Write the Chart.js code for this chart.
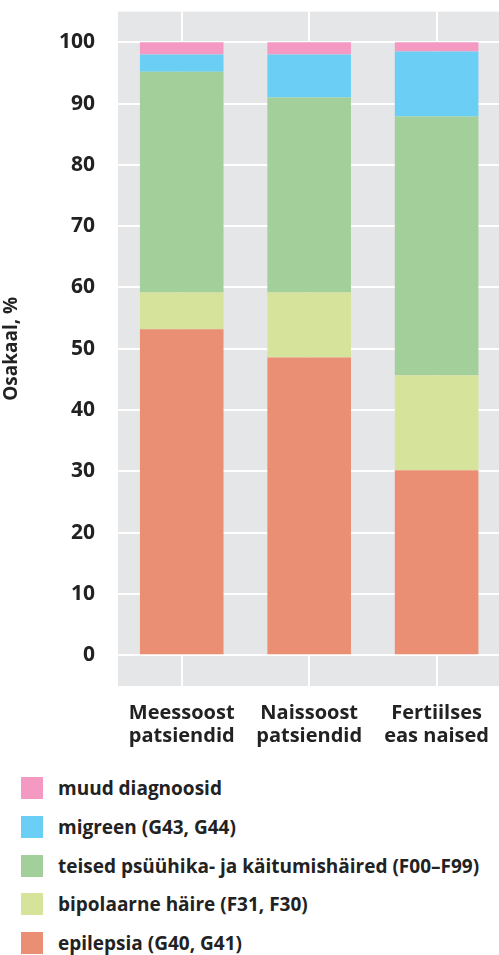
<!DOCTYPE html>
<html>
<head>
<meta charset="utf-8">
<script src="https://cdn.jsdelivr.net/npm/chart.js@4.4.1/dist/chart.umd.min.js"></script>
<style>
  html, body { margin: 0; padding: 0; background: #fff; overflow: hidden; width: 499px; height: 955px; }
  #wrap { position: relative; width: 505px; height: 955px; overflow: hidden; }
  #chart { position: absolute; left: 0; top: 0; }
  #legend { position: absolute; left: 0; top: 760px; width: 499px; font-family: "Open Sans", sans-serif; font-weight: 700; font-size: 19px; color: #222; }
  .item { position: absolute; left: 21px; height: 22px; display: flex; align-items: center; white-space: nowrap; }
  .box { width: 22px; height: 22px; margin-right: 15px; }
</style>
</head>
<body>
<div id="wrap">
  <canvas id="chart" width="505" height="785"></canvas>
  <div id="legend"></div>
</div>
<script>
// andmed
const categories = [['Meessoost', 'patsiendid'], ['Naissoost', 'patsiendid'], ['Fertiilses', 'eas naised']];
const epilepsia = [53.2, 48.6, 30.2];
const bipolaarne = [6.0, 10.6, 15.5];
const psyyhika = [36.0, 31.8, 42.2];
const migreen = [2.8, 7.0, 10.6];
const muud = [2.0, 2.0, 1.5];
const yTicks = [0, 10, 20, 30, 40, 50, 60, 70, 80, 90, 100];

const series = [
    { label: 'epilepsia (G40, G41)', data: epilepsia, color: '#EA8F74' },
    { label: 'bipolaarne häire (F31, F30)', data: bipolaarne, color: '#D5E49A' },
    { label: 'teised psüühika- ja käitumishäired (F00–F99)', data: psyyhika, color: '#A3CF9A' },
    { label: 'migreen (G43, G44)', data: migreen, color: '#6BCFF5' },
    { label: 'muud diagnoosid', data: muud, color: '#F49AC2' }
];

const fontFamily = '"Open Sans", sans-serif';

// hall taust joonise alale
const bgPlugin = {
    id: 'bg',
    beforeDraw(chart) {
        const a = chart.chartArea;
        const c = chart.ctx;
        c.save();
        c.fillStyle = '#E5E6E8';
        c.fillRect(a.left, a.top, a.right - a.left, a.bottom - a.top);
        c.restore();
    }
};

const canvas = document.getElementById('chart');
const chart = new Chart(canvas.getContext('2d'), {
    type: 'bar',
    data: {
        labels: categories,
        datasets: series.map(s => ({
            label: s.label,
            data: s.data,
            backgroundColor: s.color,
            borderWidth: 0,
            barPercentage: 0.656,
            categoryPercentage: 1
        }))
    },
    options: {
        responsive: false,
        animation: false,
        devicePixelRatio: 1,
        layout: { padding: { top: 12, right: 0, left: 0, bottom: 0 } },
        plugins: {
            legend: { display: false },
            tooltip: { enabled: false }
        },
        scales: {
            x: {
                stacked: true,
                grid: { color: '#fff', lineWidth: 2, offset: false, drawTicks: false },
                border: { display: false },
                ticks: {
                    color: '#222',
                    padding: 16,
                    font: { family: fontFamily, size: 20, weight: 'bold', lineHeight: 1.15 }
                },
                afterFit(scale) { scale.height = 75; }
            },
            y: {
                stacked: true,
                min: -5,
                max: 105,
                grid: { color: '#fff', lineWidth: 2, drawTicks: false },
                border: { display: false },
                afterBuildTicks(scale) { scale.ticks = yTicks.map(v => ({ value: v })); },
                ticks: {
                    color: '#222',
                    padding: 23,
                    font: { family: fontFamily, size: 21, weight: 'bold' }
                },
                title: {
                    display: true,
                    text: 'Osakaal, %',
                    color: '#222',
                    padding: 0,
                    font: { family: fontFamily, size: 19, weight: 'bold' }
                },
                afterFit(scale) { scale.width = 118; }
            }
        }
    },
    plugins: [bgPlugin]
});

// joonise ala ülemine serv 12px kõrgusele
canvas.style.top = (12 - chart.chartArea.top) + 'px';

// legend, ülevalt alla vastupidises järjekorras
const rowTops = [17, 56, 95, 133, 172];
const legend = document.getElementById('legend');
series.slice().reverse().forEach((s, i) => {
    const el = document.createElement('div');
    el.className = 'item';
    el.style.top = rowTops[i] + 'px';
    el.innerHTML = '<div class="box" style="background:' + s.color + '"></div><span>' + s.label + '</span>';
    legend.appendChild(el);
});
</script>
</body>
</html>
